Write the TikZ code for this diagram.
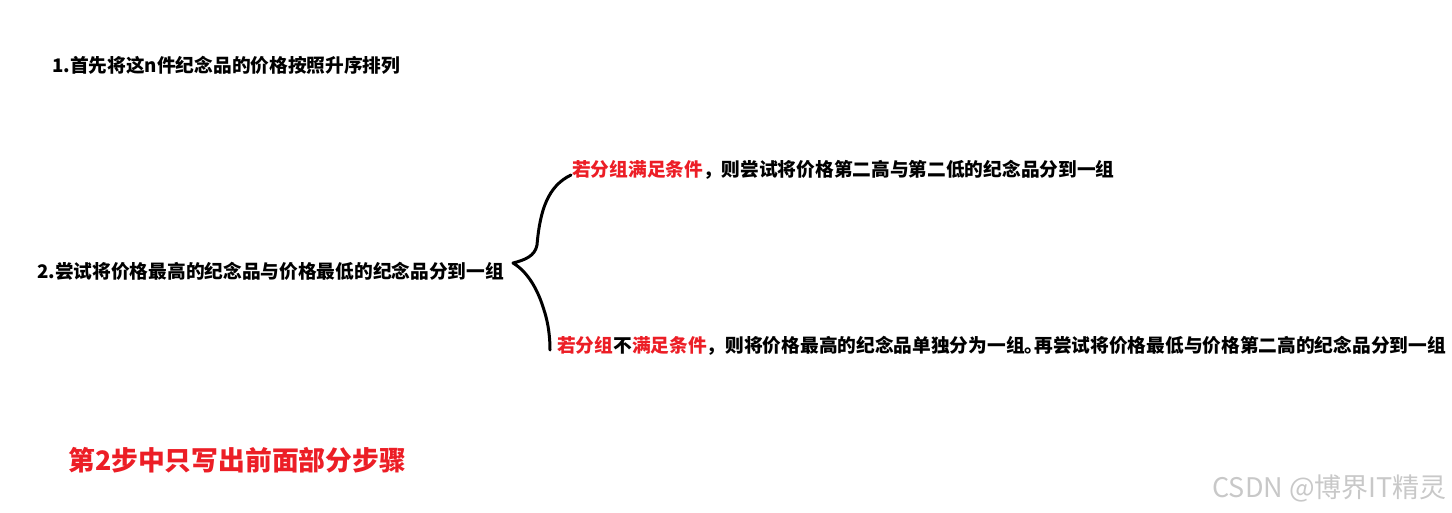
\documentclass[tikz,border=0pt]{standalone}
\usepackage{fontspec}
\newfontfamily\cjk{Noto Sans CJK SC}
\definecolor{hlred}{RGB}{236,30,38}
\definecolor{wmgray}{RGB}{200,200,200}
\tikzset{
  steptext/.style={anchor=west, inner sep=0pt, font=\cjk\bfseries\fontsize{18.7}{22}\selectfont},
  bracepen/.style={line width=3pt, line cap=round, line join=round}
}
\begin{document}
\begin{tikzpicture}[x=1pt, y=-1pt]
  \useasboundingbox (0,0) rectangle (1452,512);

  \node[steptext] (sort) at (52, 65) {1.首先将这n件纪念品的价格按照升序排列};
  \node[steptext] (pair) at (37, 271) {2.尝试将价格最高的纪念品与价格最低的纪念品分到一组};

  \node[steptext] (yes) at (572, 170)
       {\textcolor{hlred}{若分组满足条件}，则尝试将价格第二高与第二低的纪念品分到一组};
  \node[steptext] (no) at (557, 346)
       {\textcolor{hlred}{若分组}不\textcolor{hlred}{满足条件}，则将价格最高的纪念品单独分为一组。\kern-9pt 再尝试将价格最低与价格第二高的纪念品分到一组};

  \node[anchor=west, inner sep=0pt, text=hlred, font=\cjk\bfseries\fontsize{26.8}{30}\selectfont]
       (note) at (68, 460) {第2步中只写出前面部分步骤};

  % hand drawn brace
  \coordinate (tip) at (513, 263);
  \coordinate (top) at (571, 175);
  \coordinate (bot) at (550, 350);
  \draw[bracepen] (top) .. controls (548, 186) and (540, 210) .. (537, 245)
                        .. controls (535, 256) and (525, 260) .. (tip)
                        .. controls (528, 272) and (538, 290) .. (544, 310)
                        .. controls (549, 325) and (550, 340) .. (bot);

  \node[anchor=east, inner sep=0pt, text=wmgray, font=\cjk\fontsize{27}{30}\selectfont]
       (mark) at (1447, 488) {CSDN @博界IT精灵};
\end{tikzpicture}
\end{document}
